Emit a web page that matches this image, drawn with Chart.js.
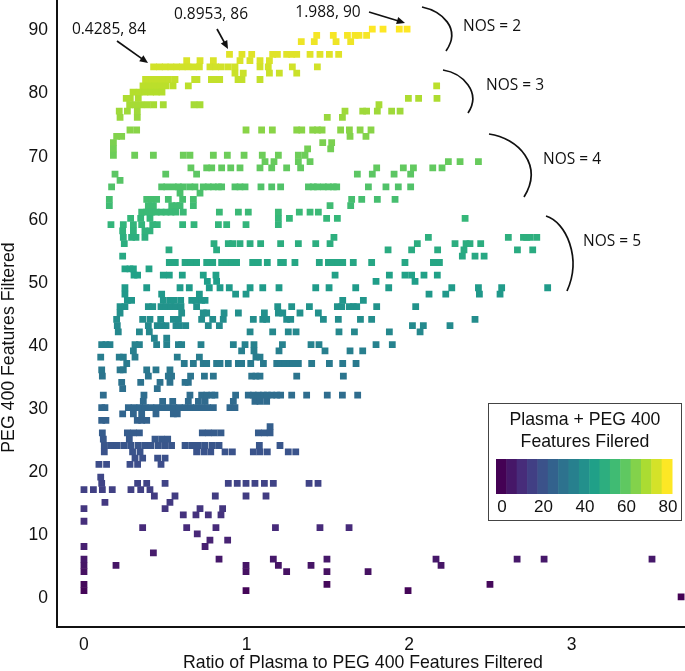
<!DOCTYPE html>
<html><head><meta charset="utf-8">
<style>html,body{margin:0;padding:0;background:#fff}#w{position:absolute;left:0;top:0;width:685px;height:671px}</style>
<script src="https://cdn.jsdelivr.net/npm/chart.js@4"></script></head>
<body><div id="w"><canvas id="c" width="685" height="671"></canvas></div>
<script>
// Ratio values (x) for each PEG 400 count (y)
const r90=[1.774,1.84,1.94,1.988];
const r89=[1.432,1.534,1.621,1.668,1.692,1.739];
const r88=[1.337,1.417,1.551,1.641];
const r86=[.8953,.972,1.032,1.161,1.19,1.247,1.278,1.309,1.391,1.452,1.51,1.567];
const r85=[.632,.714,.796,.96,1.021,1.083,1.141];
const r84=[.4285,.465,.5,.535,.57,.605,.64,.675,.71,.775,.81,.845,.888,.929,1.083,1.134,1.282,1.436];
const r83=[.929,.98,1.141,1.202,1.309];
const r82=[.379,.415,.45,.485,.52,.56,.681,.695,.784,.81,.835,.948,.972,1.083];
const r81=[.363,.4,.435,.47,.505,.548,.642,2.17];
const r80=[.302,.34,.375,.41,.445,.48];
const r79=[.26,.285,.334,1.996,2.059,2.172];
const r78=[.281,.315,.35,.39,.429,.488,.677,.714,1.815];
const r77=[.217,.267,.328,1.606,1.715,1.739,1.805,1.893,1.945];
const r76=[.222,.328,1.497,1.59];
const r74=[.283,.324,.997,1.093,1.159,1.309,1.34,1.407,1.436,1.465,1.579,1.633,1.699,1.766];
const r73=[.201,.232,1.637,1.735];
const r72=[.181,1.469,1.524];
const r71=[.181,1.376,1.518];
const r70=[.181,.312,.427,.611,.652,.796,.882,.985,1.097,1.196,1.319,1.36];
const r69=[1.114,1.169,1.319,1.391,2.242,2.314,2.427];
const r68=[.658,.755,.786,.847,.903,.96,1.083,1.155,1.247,1.333,1.801,1.965,2.027,2.146,2.203];
const r67=[.191,.503,.693,1.682,1.774,1.908,2.01];
const r66=[.222];
const r65=[.17,.478,.509,.55,.581,.611,.652,.683,.734,.765,.796,.827,.847,.929,.96,.991,1.089,1.155,1.21,1.381,1.411,1.436,1.473,1.504,1.534,1.555,1.75,1.858,1.934,2.01];
const r64=[.591,.714];
const r63=[.156,.386,.416,.447,.519,.607,.673,1.647,1.709,1.805,1.914];
const r62=[.156,.396,.427,.54,.57,.591,.673,1.514,1.641];
const r61=[.355,.385,.415,.445,.475,.505,.535,.565,.611,.833,.95,1.011,1.196,1.325,1.391,1.442];
const r60=[.287,.349,.406,1.196,1.264,1.493,1.559,2.345];
const r59=[.166,.242,.304,.355,.423,.451,.607,.677,.827,.878,.997,1.196];
const r58=[.238,.304,.375,.406];
const r57=[.242,.293,.32,.375,1.538,2.119,2.611,2.704,2.724,2.745,2.786];
const r56=[.248,.8,.888,.915,.96,1.022,1.087,1.21,1.319,1.426,1.514,2.051,2.283,2.351,2.375,2.441];
const r55=[.523,.816,1.871,2.016,2.176,2.338,2.667,2.761];
const r54=[.238,2.328,2.406,2.462];
const r53=[.525,.562,.622,.656,.693,.755,.792,.847,.878,.909,.939,1.038,1.073,1.128,1.21,1.227,1.298,1.448,1.504,1.534,1.565,1.592,1.657,1.77,1.975,2.15,2.187];
const r52=[.252,.283,.304,.4];
const r51=[.308,.33,.488,.525,.605,.734,.812,1.545,1.879,1.975,2.016,2.092,2.174];
const r50=[.759,.816,1.797,2.037];
const r49=[.252,.386,.591,.648,.771,.837,.894,1.022,1.1,1.2,1.426,1.508,1.672,1.875,2.263,2.427,2.57,2.853];
const r48=[.252,.478,.71,.933,.997,2.123,2.226,2.433,2.56];
const r47=[.267,.293,.488,.529,.554,.595,.663,.689,.724,.745,1.592,1.719];
const r46=[.222,.252,.396,.423,.474,.505,.535,.566,.597,.693,1.192,1.278,1.387,1.559,1.586,1.633,1.657,1.678,1.801,2.041];
const r45=[.222,.601,.734,.755,.862,.95,1.11,1.196,1.223,1.329,1.442];
const r44=[.201,.361,.406,.472,.55,.581,.724,.792,.857,1.042,1.1,1.124,1.247,1.272,1.473,1.565,1.701,1.77,2.406];
const r43=[.205,.396,.451,.478,.505,.566,.587,.626,.765,.833,2.021,2.088,2.252];
const r42=[.211,.341,.402,1.022,1.161,1.257,1.305,1.569,1.664,1.879,2.068];
const r41=[.433,.509];
const r40=[.109,.135,.16,.314,.341,.447,.509,.581,.601,.72,.919,.991,1.046,1.221,1.397,1.446,1.797,1.897];
const r39=[.304,.97,1.046,1.2,1.483,1.637,1.715];
const r38=[.103,.217,.242,.314,.574,.71,1.058,1.083];
const r37=[.263,.617,.673,.734,.755,.816,.837,.888,.95,.97,1.026,1.104,1.186,1.21,1.237,1.264,1.288,1.319,1.401,1.51,1.592,1.674];
const r36=[.109,.222,.242,.386,.443,.529];
const r35=[.113,.396,.519,.539,.656,.741,.796,1.032,1.058,1.083,1.309,1.596];
const r34=[.232,.349,.468,.529,.622,.642];
const r33=[.238,.451];
const r32=[.119,.369,.652,.724,.755,.786,.806,.933,1.011,1.042,1.073,1.104,1.128,1.155,1.186,1.21,1.278,1.37,1.497,1.59,1.684];
const r31=[.365,.484,.546,.642,.704,.745,.919,1.052,1.083,1.124];
const r30=[.109,.129,.273,.308,.343,.377,.412,.447,.482,.517,.552,.587,.622,.656,.691,.726,.761,.796,.898,.929];
const r29=[.238,.304,.355,.443,.55,.574];
const r28=[.109,.135,.328,.355,.386];
const r27=[1.145];
const r26=[.113,.267,.304,.341,.728,.765,.802,.843,1.073,1.11,1.145];
const r25=[.119,.279,.437,.478,.515];
const r24=[.125,.164,.205,.248,.289,.334,.375,.412,.457,.498,.539,.622,.663,.704,.745,.79,.831,1.079,1.206];
const r23=[.125,.299,.345,.693,.738,.78,.868,.913,1.042,1.083,1.128,1.257,1.303];
const r22=[.314,.361,.453,.499];
const r21=[.092,.139,.283,.33,.474];
const r19=[.103];
const r18=[.109,.33,.386,.499,.888,.943,.997,1.052,1.11,1.165,1.385,1.44];
const r17=[0,.058,.113,.174,.289,.349,.406];
const r16=[.433,.56,.808,.997,1.12];
const r15=[.129,.529];
const r14=[0,.499,.714,.853];
const r13=[.611,.689,.765,.843];
const r12=[0];
const r11=[.361,.632,.812,1.178,1.452,1.631];
const r10=[.697];
const r9=[.775,.884];
const r8=[0,.745];
const r7=[.427];
const r6=[0,.831,1.165,1.495,2.166,2.665,2.831,3.495];
const r5=[0,.197,.997,1.196,1.397,2.197];
const r4=[0,.997,1.247,1.495,1.748];
const r2=[0,1.495,2.498];
const r1=[0,.997,1.994];
const r0=[3.674];
const rows=[[90,r90],[89,r89],[88,r88],[86,r86],[85,r85],[84,r84],[83,r83],[82,r82],[81,r81],[80,r80],[79,r79],[78,r78],[77,r77],[76,r76],[74,r74],[73,r73],[72,r72],[71,r71],[70,r70],[69,r69],[68,r68],[67,r67],[66,r66],[65,r65],[64,r64],[63,r63],[62,r62],[61,r61],[60,r60],[59,r59],[58,r58],[57,r57],[56,r56],[55,r55],[54,r54],[53,r53],[52,r52],[51,r51],[50,r50],[49,r49],[48,r48],[47,r47],[46,r46],[45,r45],[44,r44],[43,r43],[42,r42],[41,r41],[40,r40],[39,r39],[38,r38],[37,r37],[36,r36],[35,r35],[34,r34],[33,r33],[32,r32],[31,r31],[30,r30],[29,r29],[28,r28],[27,r27],[26,r26],[25,r25],[24,r24],[23,r23],[22,r22],[21,r21],[19,r19],[18,r18],[17,r17],[16,r16],[15,r15],[14,r14],[13,r13],[12,r12],[11,r11],[10,r10],[9,r9],[8,r8],[7,r7],[6,r6],[5,r5],[4,r4],[2,r2],[1,r1],[0,r0]];
const xTicks=[0,1,2,3];
const yTicks=[0,10,20,30,40,50,60,70,80,90];
const legendTicks=[0,20,40,60,80];
const colorMax=90;
const viridis=[[68,1,84],[72,40,120],[62,74,137],[49,104,142],[38,130,142],[31,158,137],[53,183,121],[109,205,89],[180,222,44],[253,231,37]];
function vir(t){t=Math.max(0,Math.min(1,t));const p=t*(viridis.length-1),i=Math.min(viridis.length-2,Math.floor(p)),f=p-i;
 const c=viridis[i].map((v,k)=>Math.round(v+(viridis[i+1][k]-v)*f));return `rgb(${c[0]},${c[1]},${c[2]})`;}
const pts=[];rows.forEach(([y,xs])=>xs.forEach(x=>pts.push({x,y})));
const SANS='"Liberation Sans",Arial,sans-serif', HUM='"Open Sans",sans-serif';
const notes=[["0.4285, 84",109,30],["0.8953, 86",211,15],["1.988, 90",328,13],["NOS = 2",492,27],["NOS = 3",515,86],["NOS = 4",572,160],["NOS = 5",612,242]];
const arrows=[[117,41,148,63],[217,29,228,49],[369,12,405,23]];
const curves=[[422,7,441,11,462,28,446,51],[443,70,462,73,482,92,468,113],[489,134,518,138,544,165,524,197],[546,216,566,222,582,258,567,291]];
const xTitle='Ratio of Plasma to PEG 400 Features Filtered', yTitle='PEG 400 Features Filtered';
const deco={id:'deco',afterDraw(ch){const c=ch.ctx;c.save();
 c.fillStyle='#111';c.textAlign='center';c.textBaseline='middle';
 c.font='17.7px '+SANS;c.fillText(xTitle,363,663);
 c.save();c.translate(9,347.5);c.rotate(-Math.PI/2);c.fillText(yTitle,0,0);c.restore();
 c.font='15.5px '+HUM;
 notes.forEach(([t,x,y])=>c.fillText(t,x,y));
 c.strokeStyle='#111';c.lineWidth=1.7;
 arrows.forEach(([a,b,d,e])=>{const th=Math.atan2(e-b,d-a),L=9;
  c.beginPath();c.moveTo(a,b);c.lineTo(d-Math.cos(th)*5,e-Math.sin(th)*5);c.stroke();
  c.beginPath();c.moveTo(d,e);c.lineTo(d-L*Math.cos(th-.42),e-L*Math.sin(th-.42));c.lineTo(d-L*Math.cos(th+.42),e-L*Math.sin(th+.42));c.closePath();c.fill();});
 curves.forEach(p=>{c.beginPath();c.moveTo(p[0],p[1]);c.bezierCurveTo(p[2],p[3],p[4],p[5],p[6],p[7]);c.stroke();});
 // colour legend
 c.fillStyle='#fff';c.fillRect(488,403.5,194,117);c.strokeStyle='#444';c.lineWidth=1;c.strokeRect(488.5,403.5,193,117);
 c.fillStyle='#111';c.font='17.7px '+SANS;c.fillText('Plasma + PEG 400',585,420.5);c.fillText('Features Filered',585,442);
 const bx=496,bw=176,n=17;for(let i=0;i<n;i++){c.fillStyle=vir(i/(n-1));c.fillRect(bx+i*bw/n,459,bw/n+.5,35);}
 c.fillStyle='#111';c.font='17px '+SANS;legendTicks.forEach(v=>c.fillText(String(v),502+v/80*166,507.5));
 c.restore();}};
const zeroPad=s=>{s.paddingLeft=s.paddingRight=s.paddingTop=s.paddingBottom=0;};
new Chart(document.getElementById('c'),{type:'scatter',data:{datasets:[{data:pts,pointStyle:'rect',pointRadius:4.8,pointBorderWidth:0,
 pointBackgroundColor:ctx=>vir(ctx.raw.y/colorMax)}]},
 options:{responsive:false,animation:false,events:[],layout:{padding:0,autoPadding:false},
 plugins:{legend:{display:false},tooltip:{enabled:false}},
 scales:{
  x:{min:-0.166,max:3.698,afterFit:s=>{s.height=44.5;zeroPad(s);},afterBuildTicks:s=>{s.ticks=xTicks.map(value=>({value}));},
   grid:{display:false,drawTicks:true,tickLength:6,tickColor:'#111',tickWidth:1.3},border:{color:'#111',width:2},
   ticks:{color:'#111',font:{family:SANS,size:17.5},padding:2,maxRotation:0}},
  y:{min:-4.68,max:94.6,afterFit:s=>{s.width=57;zeroPad(s);},afterBuildTicks:s=>{s.ticks=yTicks.map(value=>({value}));},
   grid:{display:false,drawTicks:true,tickLength:6,tickColor:'#111',tickWidth:1.3},border:{color:'#111',width:2},
   ticks:{color:'#111',font:{family:SANS,size:17.5},padding:3,labelOffset:1.5}}
 }},plugins:[deco]});
</script></body></html>
